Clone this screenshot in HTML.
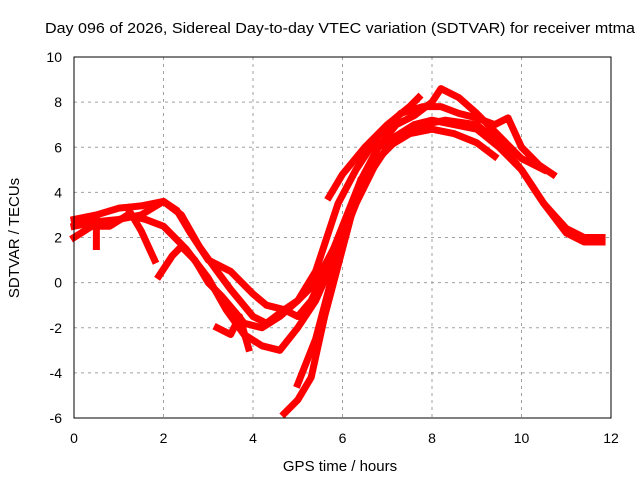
<!DOCTYPE html>
<html><head><meta charset="utf-8">
<style>
body{margin:0;background:#fff;}
svg{display:block;font-family:"Liberation Sans",sans-serif;}
</style></head>
<body>
<svg id="chart" width="640" height="480" viewBox="0 0 640 480">
<rect width="640" height="480" fill="#fff"/>
<g id="grid"></g>
<g id="series"></g>
<rect x="74" y="57" width="537" height="361" fill="none" stroke="#000" stroke-width="1"/>
<g id="ticks"></g>
<text x="340" y="33" text-anchor="middle" font-size="15" textLength="590" lengthAdjust="spacingAndGlyphs">Day 096 of 2026, Sidereal Day-to-day VTEC variation (SDTVAR) for receiver mtma</text>
<text x="340" y="471" text-anchor="middle" font-size="15">GPS time / hours</text>
<text x="19" y="238" text-anchor="middle" font-size="15" transform="rotate(-90 19 238)">SDTVAR / TECUs</text>
</svg>
<script>
const xTicks=[0,2,4,6,8,10,12];
const yTicks=[-6,-4,-2,0,2,4,6,8,10];
const track1=[[0,2.8],[0.5,3.0],[1,3.3],[1.5,3.4],[2,3.6],[2.3,3.2],[2.6,2.2],[3,1.0],[3.5,0.5],[4,-0.5],[4.3,-1.0],[4.7,-1.2],[5,-0.8],[5.4,0],[5.8,1.5],[6.2,3.0],[6.5,4.5],[7,6.0],[7.5,6.6],[8,6.8],[8.5,6.6],[9,6.2],[9.4,5.6]];
const track2=[[0,2.5],[0.5,2.7],[1,2.8],[1.5,3.0],[2,3.6],[2.4,3.0],[2.8,1.6],[3.2,0.5],[3.5,-0.3],[4,-1.5],[4.3,-1.8],[4.7,-1.2],[5,-1.5],[5.3,-0.8],[5.6,0.5],[6,2.5],[6.4,4.5],[6.8,6],[7.2,7.0],[7.6,7.4],[8,8.0],[8.2,8.6],[8.6,8.2],[9,7.5],[9.5,6.5],[10,5.5],[10.5,5.0]];
const track3=[[0,2.0],[0.4,2.5],[0.8,2.5],[1.2,3.0],[1.6,2.8],[2,2.5],[2.5,1.5],[3,0.2],[3.4,-1.2],[3.8,-2.3],[4.2,-2.8],[4.6,-3.0],[5,-2.0],[5.4,-0.8],[5.8,1.0],[6.3,3.5],[6.8,5.5],[7.3,6.5],[7.8,7.0],[8.3,7.2],[9,7.0],[9.5,6.2],[10,5.0],[10.5,3.5],[11,2.2],[11.4,1.8],[11.8,1.8]];
const track4=[[4.7,-5.8],[5,-5.2],[5.3,-4.2],[5.6,-1.5],[6,1.5],[6.4,4.5],[6.8,6.0],[7.2,6.5],[7.6,7.0],[8,7.2],[8.5,7.0],[9,6.8],[9.5,6.0],[10,5.0],[10.5,3.5],[11,2.4],[11.4,2.0],[11.8,2.0]];
const track5=[[1.9,0.3],[2.2,1.2],[2.4,1.6],[2.7,1.0],[3,0],[3.3,-0.6],[3.6,-1.3],[3.8,-1.8],[4.2,-2.0],[4.6,-1.5],[5,-0.8],[5.4,0.5],[5.9,3.5],[6.3,5],[6.8,6.5],[7.3,7.5],[7.8,7.8],[8.2,7.8],[8.6,7.5],[9,7.3],[9.4,7.0],[9.7,7.3],[10,6.0],[10.4,5.2],[10.7,4.8]];
const track6=[[5.7,3.8],[6,4.8],[6.5,6.0],[7,7.0],[7.5,7.8],[7.7,8.2]];
const track7=[[1.2,3.3],[1.5,2.3],[1.8,1.0]];
const track8=[[0.5,2.8],[0.5,1.6]];
const track9=[[3.2,-2.0],[3.5,-2.3],[3.7,-1.5],[3.9,-2.9]];
const track10=[[5.0,-4.5],[5.4,-2.5],[5.8,0.5],[6.1,2.5],[6.4,4.5]];
const tracks=[track1,track2,track3,track4,track5,track6,track7,track8,track9,track10];
const NS='http://www.w3.org/2000/svg';
const X=h=>74+h*(537/12);
const Y=v=>418-(v+6)*(361/16);
const grid=document.getElementById('grid'),ticks=document.getElementById('ticks'),ser=document.getElementById('series');
xTicks.forEach(t=>{
  if(t>0&&t<12){const l=document.createElementNS(NS,'line');
  
  
  l.setAttribute('x1',X(t));l.setAttribute('x2',X(t));l.setAttribute('y1',57);l.setAttribute('y2',418);
  l.setAttribute('stroke','#a0a0a0');l.setAttribute('stroke-dasharray','3,4');grid.appendChild(l);}
  const tx=document.createElementNS(NS,'text');
  
  
  tx.setAttribute('x',X(t));tx.setAttribute('y',443);tx.setAttribute('text-anchor','middle');tx.setAttribute('font-size','14');
  tx.textContent=t;ticks.appendChild(tx);
});
yTicks.forEach(t=>{
  if(t>-6&&t<10){const l=document.createElementNS(NS,'line');
  
  
  l.setAttribute('x1',74);l.setAttribute('x2',611);l.setAttribute('y1',Y(t));l.setAttribute('y2',Y(t));
  l.setAttribute('stroke','#a0a0a0');l.setAttribute('stroke-dasharray','3,4');grid.appendChild(l);}
  const tx=document.createElementNS(NS,'text');
  
  
  tx.setAttribute('x',62);tx.setAttribute('y',Y(t)+5);tx.setAttribute('text-anchor','end');tx.setAttribute('font-size','14');
  tx.textContent=t;ticks.appendChild(tx);
});
tracks.forEach((tr,i)=>{
  const p=document.createElementNS(NS,'polyline');
  
  
  p.setAttribute('points',tr.map(d=>X(d[0])+','+Y(d[1])).join(' '));
  p.setAttribute('fill','none');p.setAttribute('stroke','#ff0000');p.setAttribute('stroke-width','7');
  p.setAttribute('stroke-linejoin','round');p.setAttribute('stroke-linecap','square');
  ser.appendChild(p);
});
</script>
</body></html>
